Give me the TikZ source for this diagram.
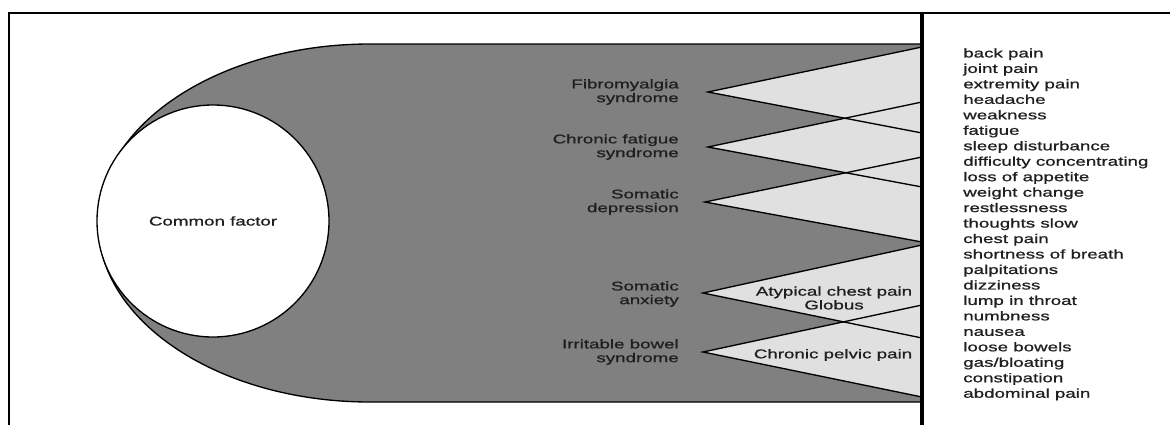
\documentclass[tikz,border=0pt]{standalone}
\usepackage{fontspec}
\setmainfont{Liberation Sans}[FakeStretch=1.48, FakeBold=1]
\usepackage{xcolor}
\usepackage{tikz}
\usetikzlibrary{positioning}

\definecolor{bodygray}{gray}{0.5}
\definecolor{wedgegray}{gray}{0.88}
\definecolor{inkgray}{gray}{0.12}

\tikzset{
  outline/.style={line width=1pt, draw=black},
  lbl/.style={font=\fontsize{9.5}{10.3}\selectfont, inner sep=0pt, text=inkgray},
  symlist/.style={font=\fontsize{9.5}{11.6}\selectfont, inner sep=0pt, align=left, anchor=north west, text=inkgray},
  factor/.style={circle, draw, fill=white, line width=1pt, minimum size=174pt, inner sep=0pt, font=\fontsize{9.5}{10.3}\selectfont, text=inkgray},
}

\begin{document}
\begin{tikzpicture}[x=0.75pt, y=-0.75pt]
    \useasboundingbox (0,0) rectangle (1170,425);

    % Frame
    \draw[line width=1pt] (9,425) -- (9,13) -- (1170,13);

    % Grey body
    \filldraw[fill=bodygray, outline] (922,44) -- (370,44)
        arc[start angle=270, end angle=90, x radius=272, y radius=179] -- (922,402);

    % Tips of the wedges
    \coordinate (fibro-tip) at (708,92);
    \coordinate (fatigue-tip) at (708,147);
    \coordinate (depr-tip) at (705,202);
    \coordinate (anx-tip) at (703,293);
    \coordinate (ibs-tip) at (703,352);

    % Wedges, filled first
    \fill[wedgegray] (922,47) -- (fibro-tip) -- (922,133) -- cycle;
    \fill[wedgegray] (922,102) -- (fatigue-tip) -- (922,187) -- cycle;
    \fill[wedgegray] (922,157) -- (depr-tip) -- (922,242) -- cycle;
    \fill[wedgegray] (922,245) -- (anx-tip) -- (922,338) -- cycle;
    \fill[wedgegray] (922,305) -- (ibs-tip) -- (922,397) -- cycle;

    % Wedge sides
    \draw[outline] (922,47) -- (fibro-tip) -- (922,133);
    \draw[outline] (922,102) -- (fatigue-tip) -- (922,187);
    \draw[outline] (922,157) -- (depr-tip) -- (922,242);
    \draw[outline] (922,245) -- (anx-tip) -- (922,338);
    \draw[outline] (922,305) -- (ibs-tip) -- (922,397);

    % Divider
    \draw[line width=3pt] (922,13) -- (922,425);

    % Common factor
    \node[factor] (common) at (213,221) {Common factor};

    % Syndromes
    \node[lbl, anchor=east, align=right] (fibro) at (679,92) {Fibromyalgia\\syndrome};
    \node[lbl, anchor=east, align=right] (fatigue) at (679,147) {Chronic fatigue\\syndrome};
    \node[lbl, anchor=east, align=right] (depr) at (679,202) {Somatic\\depression};
    \node[lbl, anchor=east, align=right] (anx) at (679,294) {Somatic\\anxiety};
    \node[lbl, anchor=east, align=right] (ibs) at (679,352) {Irritable bowel\\syndrome};

    % Inside the wedges
    \node[lbl, align=center] (chest) at (834,298) {Atypical chest pain\\Globus};
    \node[lbl] (pelvic) at (833,355) {Chronic pelvic pain};

    % Symptoms
    \node[symlist] (symptoms) at (963,48) {back pain\\joint pain\\extremity pain\\headache\\weakness\\fatigue\\sleep disturbance\\difficulty concentrating\\loss of appetite\\weight change\\restlessness\\thoughts slow\\chest pain\\shortness of breath\\palpitations\\dizziness\\lump in throat\\numbness\\nausea\\loose bowels\\gas/bloating\\constipation\\abdominal pain};
\end{tikzpicture}
\end{document}
